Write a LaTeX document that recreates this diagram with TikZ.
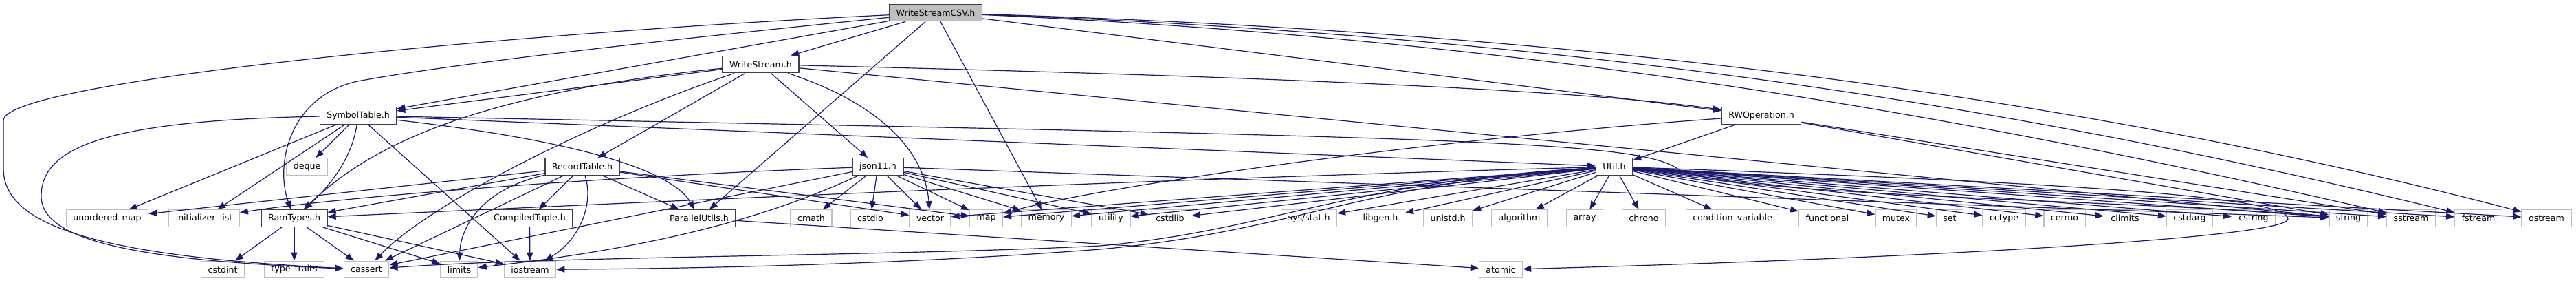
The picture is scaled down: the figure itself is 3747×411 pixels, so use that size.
\documentclass[tikz,border=0pt]{standalone}
\usepackage{fontspec}
\setmainfont{DejaVu Sans}
\usetikzlibrary{arrows.meta}
\definecolor{edgeblue}{HTML}{191970}
\definecolor{boxdark}{HTML}{404040}
\definecolor{boxlight}{HTML}{BFBFBF}
\begin{document}
\begin{tikzpicture}[x=1pt,y=-1pt,
  file/.style={draw=boxdark,line width=1.3pt,fill=white,minimum height=24.5pt,inner xsep=10pt,inner ysep=0pt,font=\fontsize{12.6}{15}\selectfont},
  lib/.style={file,draw=boxlight},
  root/.style={file,fill=boxlight},
  inc/.style={draw=edgeblue,line width=1.2pt,-{Triangle[length=12pt,width=9pt]}}]
\useasboundingbox (0,0) rectangle (3747,411);
% headers of the project
\node[root] (wsc) at (1361,18.5) {WriteStreamCSV.h};
\node[file] (ws) at (1106.5,93.5) {WriteStream.h};
\node[file] (symtab) at (521,168) {SymbolTable.h};
\node[file] (rwop) at (2562,168) {RWOperation.h};
\node[file] (rectab) at (847,242) {RecordTable.h};
\node[file] (json) at (1277,242) {json11.h};
\node[file] (util) at (2348,242) {Util.h};
\node[file] (ramtypes) at (428,317) {RamTypes.h};
\node[file] (ctuple) at (770.5,317) {CompiledTuple.h};
\node[file] (parutil) at (1017,317) {ParallelUtils.h};
% system headers
\node[lib] (deque) at (446.5,242) {deque};
\node[lib] (umap) at (156,317) {unordered\_map};
\node[lib] (initlist) at (297,317) {initializer\_list};
\node[lib] (cmath) at (1180,317) {cmath};
\node[lib] (cstdio) at (1266,317) {cstdio};
\node[lib] (vector) at (1353,317) {vector};
\node[lib] (map) at (1434.5,317) {map};
\node[lib] (memory) at (1522,317) {memory};
\node[lib] (utility) at (1616,317) {utility};
\node[lib] (cstdlib) at (1702,317) {cstdlib};
\node[lib] (sysstat) at (1904,317) {sys/stat.h};
\node[lib] (libgen) at (2008,317) {libgen.h};
\node[lib] (unistd) at (2106,317) {unistd.h};
\node[lib] (algorithm) at (2210,317) {algorithm};
\node[lib] (array) at (2305,317) {array};
\node[lib] (chrono) at (2391,317) {chrono};
\node[lib] (condvar) at (2520,317) {condition\_variable};
\node[lib] (functional) at (2658,317) {functional};
\node[lib] (mutex) at (2758,317) {mutex};
\node[lib] (set) at (2836,317) {set};
\node[lib] (cctype) at (2915,317) {cctype};
\node[lib] (cerrno) at (3003,317) {cerrno};
\node[lib] (climits) at (3091,317) {climits};
\node[lib] (cstdarg) at (3185,317) {cstdarg};
\node[lib] (cstring) at (3278,317) {cstring};
\node[lib] (string) at (3416,317) {string};
\node[lib] (sstream) at (3507,317) {sstream};
\node[lib] (fstream) at (3605,317) {fstream};
\node[lib] (ostream) at (3704,317) {ostream};
\node[lib] (cstdint) at (324,391.5) {cstdint};
\node[lib] (typetraits) at (428,391.5) {type\_traits};
\node[lib] (cassert) at (533,391.5) {cassert};
\node[lib] (limits) at (668,391.5) {limits};
\node[lib] (iostream) at (771,391.5) {iostream};
\node[lib] (atomic) at (2183,391.5) {atomic};
% WriteStreamCSV.h
\draw[inc] (wsc) -- (ws);
\draw[inc] (wsc) -- (symtab);
\draw[inc] (wsc) .. controls (800,75) and (620,100) .. (520,118) .. controls (420,140) and (400,240) .. (ramtypes);
\draw[inc] (wsc) .. controls (700,50) and (5,120) .. (5,175) -- (5,245) .. controls (5,330) and (150,372) .. (cassert);
\draw[inc] (wsc) -- (parutil);
\draw[inc] (wsc) -- (memory);
\draw[inc] (wsc) -- (rwop);
\draw[inc] (wsc) .. controls (2300,60) and (2950,190) .. (sstream);
\draw[inc] (wsc) .. controls (2350,55) and (3000,170) .. (fstream);
\draw[inc] (wsc) .. controls (2400,50) and (3100,160) .. (ostream);
% WriteStream.h
\draw[inc] (ws) -- (symtab);
\draw[inc] (ws) .. controls (650,140) and (520,230) .. (ramtypes);
\draw[inc] (ws) .. controls (850,180) and (620,300) .. (cassert);
\draw[inc] (ws) -- (rectab);
\draw[inc] (ws) -- (json);
\draw[inc] (ws) .. controls (1280,150) and (1345,220) .. (vector);
\draw[inc] (ws) .. controls (1800,110) and (2300,130) .. (rwop);
\draw[inc] (ws) -- (string);
% SymbolTable.h
\draw[inc] (symtab) -- (umap);
\draw[inc] (symtab) -- (initlist);
\draw[inc] (symtab) -- (deque);
\draw[inc] (symtab) .. controls (512,230) and (480,270) .. (ramtypes);
\draw[inc] (symtab) -- (iostream);
\draw[inc] (symtab) .. controls (150,175) and (60,215) .. (60,285) .. controls (60,350) and (200,378) .. (cassert);
\draw[inc] (symtab) .. controls (850,205) and (980,250) .. (parutil);
\draw[inc] (symtab) -- (util);
\draw[inc] (symtab) .. controls (2150,200) and (2380,205) .. (2440,245) .. controls (2500,285) and (3100,290) .. (string);
% RecordTable.h
\draw[inc] (rectab) -- (umap);
\draw[inc] (rectab) -- (ramtypes);
\draw[inc] (rectab) -- (cassert);
\draw[inc] (rectab) .. controls (700,275) and (670,330) .. (limits);
\draw[inc] (rectab) -- (ctuple);
\draw[inc] (rectab) .. controls (865,300) and (840,350) .. (iostream);
\draw[inc] (rectab) -- (parutil);
\draw[inc] (rectab) -- (vector);
\draw[inc] (rectab) -- (map);
% json11.h
\draw[inc] (json) .. controls (900,255) and (500,285) .. (initlist);
\draw[inc] (json) -- (cassert);
\draw[inc] (json) .. controls (1150,300) and (1000,355) .. (limits);
\draw[inc] (json) -- (cmath);
\draw[inc] (json) -- (cstdio);
\draw[inc] (json) -- (vector);
\draw[inc] (json) -- (map);
\draw[inc] (json) -- (memory);
\draw[inc] (json) -- (utility);
\draw[inc] (json) -- (cstdlib);
\draw[inc] (json) -- (string);
% RWOperation.h
\draw[inc] (rwop) -- (util);
\draw[inc] (rwop) .. controls (2100,200) and (1600,270) .. (map);
\draw[inc] (rwop) -- (string);
\draw[inc] (rwop) -- (sstream);
% Util.h
\draw[inc] (util) .. controls (1600,262) and (800,300) .. (ramtypes);
\draw[inc] (util) .. controls (1950,265) and (1850,335) .. (1600,357) .. controls (1300,372) and (800,372) .. (cassert);
\draw[inc] (util) .. controls (1980,265) and (1880,337) .. (1600,362) .. controls (1300,385) and (1000,390) .. (iostream);
\draw[inc] (util) .. controls (3000,265) and (3328,285) .. (3328,318) .. controls (3328,345) and (2800,375) .. (atomic);
\draw[inc] (util) -- (vector);
\draw[inc] (util) -- (map);
\draw[inc] (util) -- (memory);
\draw[inc] (util) -- (utility);
\draw[inc] (util) -- (cstdlib);
\draw[inc] (util) -- (sysstat);
\draw[inc] (util) -- (libgen);
\draw[inc] (util) -- (unistd);
\draw[inc] (util) -- (algorithm);
\draw[inc] (util) -- (array);
\draw[inc] (util) -- (chrono);
\draw[inc] (util) -- (condvar);
\draw[inc] (util) -- (functional);
\draw[inc] (util) -- (mutex);
\draw[inc] (util) -- (set);
\draw[inc] (util) -- (cctype);
\draw[inc] (util) -- (cerrno);
\draw[inc] (util) -- (climits);
\draw[inc] (util) -- (cstdarg);
\draw[inc] (util) -- (cstring);
\draw[inc] (util) -- (string);
\draw[inc] (util) -- (sstream);
\draw[inc] (util) -- (fstream);
\draw[inc] (util) -- (ostream);
% the rest
\draw[inc] (parutil) -- (atomic);
\draw[inc] (ctuple) -- (iostream);
\draw[inc] (ramtypes) -- (cstdint);
\draw[inc] (ramtypes) -- (typetraits);
\draw[inc] (ramtypes) -- (cassert);
\draw[inc] (ramtypes) -- (limits);
\draw[inc] (ramtypes) -- (iostream);
\end{tikzpicture}
\end{document}
